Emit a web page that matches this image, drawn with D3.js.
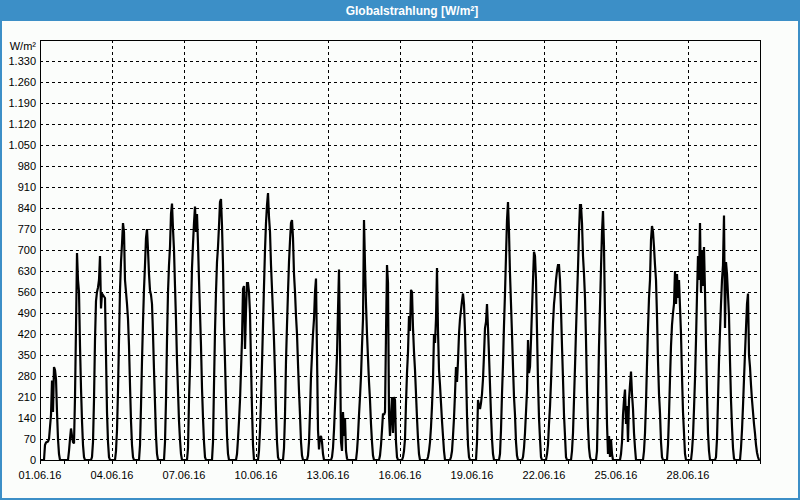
<!DOCTYPE html>
<html>
<head>
<meta charset="utf-8">
<script src="https://cdn.jsdelivr.net/npm/d3@7"></script>
<style>
html, body { margin: 0; padding: 0; background: #fbfdfb; }
svg { display: block; }
text { font-family: "Liberation Sans", Arial, sans-serif; }
</style>
</head>
<body>
<svg id="chart" width="800" height="500"></svg>
<script>
// ---------- data ----------
const chartTitle = "Globalstrahlung [W/m²]";
const unitLabel = "W/m²";
const periodStart = "01.06.16";
const periodEnd = "01.07.16";
const yMax = 1400;
const yTickValues = [0, 70, 140, 210, 280, 350, 420, 490, 560, 630, 700, 770, 840, 910, 980, 1050, 1120, 1190, 1260, 1330];
const xTickLabels = ["01.06.16", "04.06.16", "07.06.16", "10.06.16", "13.06.16", "16.06.16", "19.06.16", "22.06.16", "25.06.16", "28.06.16"];

// hourly global radiation in W/m², hours 00..23, one row per day (01.06. - 30.06.2016)
const radiation = [
  0,0,0,0,0,50,58,60,62,70,110,150,265,160,310,300,270,160,70,20,0,0,0,0,          // 01.06.
  0,0,0,0,0,30,70,105,80,60,55,210,440,690,600,560,380,240,130,50,10,0,0,0,        // 02.06.
  0,0,0,0,10,60,200,400,530,560,575,600,680,505,555,550,545,540,350,160,60,10,0,0, // 03.06.
  0,0,0,0,30,100,230,400,567,660,720,790,760,600,560,520,470,380,250,130,50,10,0,0,// 04.06.
  0,0,0,0,50,180,330,460,570,650,740,770,700,620,565,550,520,420,300,190,80,20,0,0,// 05.06.
  0,0,0,0,0,60,200,400,560,650,710,820,855,770,700,580,467,330,230,130,67,20,0,0,  // 06.06.
  0,0,0,0,40,200,310,500,640,720,790,845,760,820,720,600,490,380,240,140,60,10,0,0,// 07.06.
  0,0,0,0,0,60,250,430,560,660,710,780,860,870,780,650,450,330,200,80,20,0,0,0,    // 08.06.
  0,0,0,0,0,20,70,130,200,300,400,570,580,370,500,590,590,560,490,320,170,50,0,0,  // 09.06.
  0,0,0,30,100,200,320,450,580,700,790,850,890,810,760,650,570,490,400,290,160,60,10,0, // 10.06.
  0,0,0,0,40,150,330,450,560,660,730,790,800,740,620,560,480,420,320,230,150,60,15,0,   // 11.06.
  0,0,0,0,15,60,160,280,350,420,470,560,605,350,100,35,75,80,60,20,0,0,0,0,        // 12.06.
  0,0,0,0,10,40,100,180,260,350,500,635,380,60,30,160,80,140,30,5,0,0,0,0,         // 13.06.
  0,0,0,0,0,30,80,150,211,280,380,470,800,650,520,420,340,260,200,120,60,15,0,0,   // 14.06.
  0,0,0,0,15,50,100,155,150,160,420,650,590,150,80,150,210,90,210,200,60,10,0,0,   // 15.06.
  0,0,0,10,30,70,190,290,360,480,430,567,560,440,360,300,220,140,70,20,0,0,0,0,    // 16.06.
  0,0,0,0,10,30,60,110,180,270,420,390,470,640,430,300,250,190,130,80,30,0,0,0,    // 17.06.
  0,0,0,10,30,80,140,220,310,260,330,420,470,500,530,555,520,430,300,150,50,10,0,0,// 18.06.
  0,0,0,0,0,60,200,180,170,190,220,270,350,440,460,520,440,350,250,150,70,20,0,0,  // 19.06.
  0,0,0,0,20,100,220,320,450,556,680,800,860,760,620,520,420,310,210,150,60,15,0,0,// 20.06.
  0,0,0,10,40,90,160,230,400,290,310,400,500,600,694,680,600,430,260,140,70,10,0,0,// 21.06.
  0,0,0,20,50,120,178,260,360,455,520,555,600,630,650,650,600,500,380,270,150,80,10,0, // 22.06.
  0,0,0,0,30,90,200,311,430,540,640,760,850,850,790,680,620,540,400,230,110,40,10,0,   // 23.06.
  0,0,0,0,0,30,200,380,510,640,760,830,710,480,300,120,20,80,10,70,20,0,0,0,       // 24.06.
  0,0,0,0,0,20,60,150,200,235,120,180,60,200,250,295,220,170,90,40,0,0,0,0,        // 25.06.
  0,0,0,0,30,89,190,320,440,540,600,733,780,760,710,650,600,480,330,220,156,60,10,0,   // 26.06.
  0,0,0,0,50,150,270,380,450,490,520,630,520,620,540,600,510,420,280,160,90,20,0,0,// 27.06.
  0,0,0,0,30,80,170,270,400,550,680,600,790,560,700,580,710,560,380,220,90,30,0,0, // 28.06.
  0,0,0,0,10,70,200,330,430,520,600,650,815,440,660,620,550,480,330,200,110,40,5,0,    // 29.06.
  0,0,0,0,0,40,100,180,270,356,440,520,555,350,310,250,200,160,120,89,50,25,10,0,  // 30.06.
  0                                                                                 // 01.07. 00:00
];

// ---------- chart ----------
const W = 800, H = 500;
const margin = { left: 40, right: 40, top: 40, bottom: 40 };
const blue = "#3c8fc7";
const parseDay = d3.utcParse("%d.%m.%y");
const t0 = parseDay(periodStart), t1 = parseDay(periodEnd);

const x = d3.scaleUtc().domain([t0, t1]).range([margin.left, W - margin.right]);
const y = d3.scaleLinear().domain([0, yMax]).range([H - margin.bottom, margin.top]);

const deLocale = d3.formatLocale({ decimal: ",", thousands: ".", grouping: [3], currency: ["", " €"] });
const fmt = deLocale.format(",d");

const svg = d3.select("#chart");

// window frame & title bar
svg.append("rect").attr("x", 0).attr("y", 0).attr("width", W).attr("height", H).attr("fill", "#fbfdfb");
svg.append("rect").attr("x", 1).attr("y", 1).attr("width", W - 2).attr("height", H - 2)
  .attr("fill", "none").attr("stroke", blue).attr("stroke-width", 2);
svg.append("rect").attr("x", 0).attr("y", 0).attr("width", W).attr("height", 21).attr("fill", blue);
svg.append("text").attr("x", 412).attr("y", 14.5).attr("text-anchor", "middle")
  .attr("fill", "#ffffff").attr("font-weight", "bold").attr("font-size", "12px").text(chartTitle);

const px = v => Math.round(v) + 0.5;

// horizontal dashed grid
svg.append("g").selectAll("line").data(yTickValues.filter(v => v > 0)).join("line")
  .attr("x1", margin.left).attr("x2", W - margin.right)
  .attr("y1", d => px(y(d))).attr("y2", d => px(y(d)))
  .attr("stroke", "#000").attr("stroke-width", 1).attr("stroke-dasharray", "3,3")
  .attr("shape-rendering", "crispEdges");

// vertical dashed grid (every labelled date)
const xTicks = xTickLabels.map(parseDay);
svg.append("g").selectAll("line").data(xTicks.filter(d => +d > +t0)).join("line")
  .attr("x1", d => px(x(d))).attr("x2", d => px(x(d)))
  .attr("y1", margin.top).attr("y2", H - margin.bottom)
  .attr("stroke", "#000").attr("stroke-width", 1).attr("stroke-dasharray", "3,3")
  .attr("shape-rendering", "crispEdges");

// y labels
svg.append("g").selectAll("text").data(yTickValues).join("text")
  .attr("x", 36).attr("y", d => y(d)).attr("dy", "0.35em")
  .attr("text-anchor", "end").attr("font-size", "11px").attr("fill", "#000")
  .text(d => fmt(d));
svg.append("text").attr("x", 36).attr("y", 50).attr("text-anchor", "end")
  .attr("font-size", "11px").attr("fill", "#000").text(unitLabel);

// daily ticks below x axis
const dayTicks = d3.utcDay.range(t0, d3.utcDay.offset(t1, 1));
svg.append("g").selectAll("line").data(dayTicks).join("line")
  .attr("x1", d => px(x(d))).attr("x2", d => px(x(d)))
  .attr("y1", H - margin.bottom).attr("y2", H - margin.bottom + 4)
  .attr("stroke", "#000").attr("shape-rendering", "crispEdges");

// x labels
svg.append("g").selectAll("text").data(xTickLabels).join("text")
  .attr("x", d => x(parseDay(d))).attr("y", 478.5)
  .attr("text-anchor", "middle").attr("font-size", "11px").attr("fill", "#000")
  .text(d => d);

// data line
const points = radiation.map((v, i) => ({ t: d3.utcHour.offset(t0, i), v }));
const line = d3.line().x(d => x(d.t)).y(d => y(d.v));
svg.append("path").datum(points)
  .attr("d", line).attr("fill", "none").attr("stroke", "#000")
  .attr("stroke-width", 2.2).attr("stroke-linejoin", "miter").attr("stroke-miterlimit", 2);

// plot frame
svg.append("rect").attr("x", margin.left + 0.5).attr("y", margin.top + 0.5)
  .attr("width", W - margin.left - margin.right).attr("height", H - margin.top - margin.bottom)
  .attr("fill", "none").attr("stroke", "#000").attr("stroke-width", 1)
  .attr("shape-rendering", "crispEdges");
</script>
</body>
</html>
